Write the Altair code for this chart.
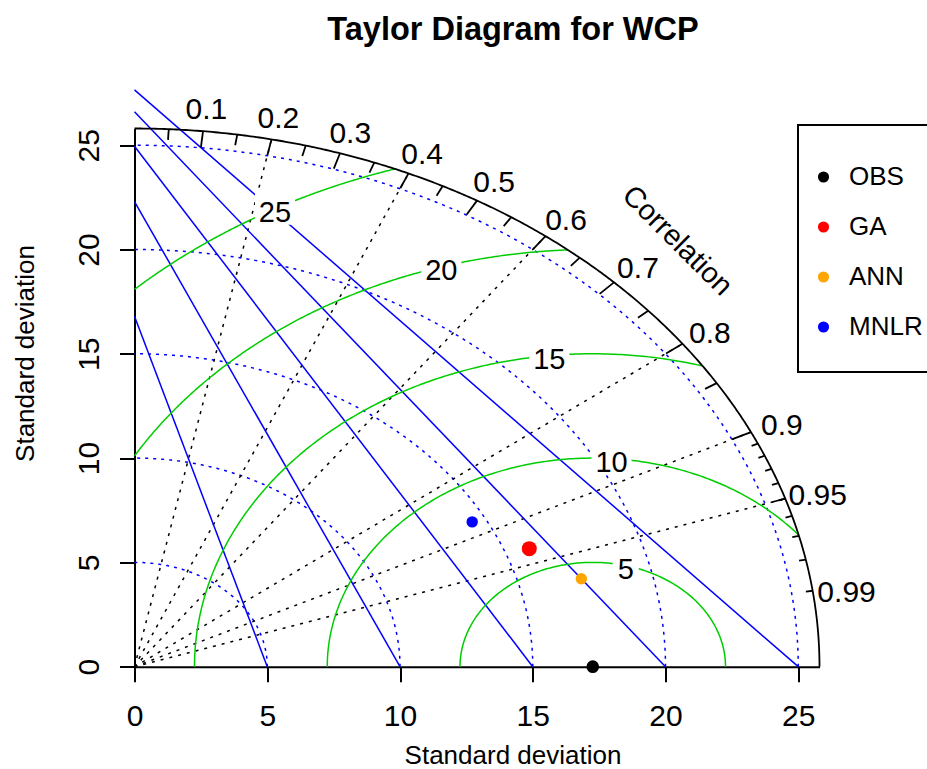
import numpy as np
import pandas as pd
import altair as alt

# ---------------- data ----------------
TITLE = "Taylor Diagram for WCP"
AXIS_TITLE = "Standard deviation"
CORR_TITLE = "Correlation"
MAXSD = 25.8
AXIS_TICKS = [0, 5, 10, 15, 20, 25]
SD_ARCS = [5, 10, 15, 20, 25]
GAMMA = [5, 10, 15, 20, 25]
GAMMA_LABEL_T = [1.32, 1.50, 1.68, 1.86, 2.07]          # radians along each RMSD arc
CORR_LINES = [0.2, 0.4, 0.6, 0.8, 0.9, 0.95]
CORR_LABELS = [0.1, 0.2, 0.3, 0.4, 0.5, 0.6, 0.7, 0.8, 0.9, 0.95, 0.99]
BIG_TICKS = [0.1, 0.2, 0.3, 0.4, 0.5, 0.6, 0.7, 0.8, 0.9]
MED_TICKS = [0.05, 0.15, 0.25, 0.35, 0.45, 0.55, 0.65, 0.75, 0.85, 0.95]
SMALL_TICKS = [0.91, 0.92, 0.93, 0.94, 0.95, 0.96, 0.97, 0.98, 0.99]
MODELS = ["OBS", "GA", "ANN", "MNLR"]
MODEL_SD = [17.26, 15.91, 17.35, 14.49]
MODEL_COR = [1.0, 0.9346, 0.9700, 0.8778]
MODEL_COLORS = ["#000000", "#FF0000", "#FFA500", "#0000FF"]
MODEL_SIZE = [160, 225, 130, 130]
LINE_X_INT = [5, 10, 15, 20, 25]
LINE_Y_INT = [16.8, 22.3, 24.95, 26.6, 27.65]

F = "Liberation Sans"
REF = MODEL_SD[0]

# ---------------- geometry tables ----------------
def arc(group, cx, r, t0, t1, n=241):
    t = np.linspace(t0, t1, n)
    return pd.DataFrame({"g": group, "o": np.arange(n),
                         "x": cx + r * np.cos(t), "y": r * np.sin(t)})

sd_arcs = pd.concat([arc(f"s{r}", 0, r, 0, np.pi / 2) for r in SD_ARCS])
outer = arc("outer", 0, MAXSD, 0, np.pi / 2, 361)

g_parts = []
for r in GAMMA:
    v = (MAXSD ** 2 - REF ** 2 - r ** 2) / (2 * REF * r)
    t0 = 0.0 if v >= 1 else float(np.arccos(max(v, -1)))
    t1 = np.pi if REF / r >= 1 else float(np.arccos(-REF / r))
    g_parts.append(arc(f"g{r}", REF, r, t0, t1))
gamma_arcs = pd.concat(g_parts)

def ticks(vals, k):
    c = np.array(vals)
    s = np.sqrt(1 - c ** 2)
    return pd.DataFrame({"x": MAXSD * c, "y": MAXSD * s, "x2": k * MAXSD * c, "y2": k * MAXSD * s})

tick_df = pd.concat([ticks(BIG_TICKS, 0.97), ticks(MED_TICKS, 0.98), ticks(SMALL_TICKS, 0.99)])

cl = np.array(CORR_LINES)
corr_lines = pd.DataFrame({"x": 0.0, "y": 0.0, "x2": MAXSD * cl, "y2": MAXSD * np.sqrt(1 - cl ** 2)})

clab = np.array(CORR_LABELS)
corr_lab = pd.DataFrame({"x": 1.05 * MAXSD * clab, "y": 1.05 * MAXSD * np.sqrt(1 - clab ** 2),
                         "lab": [f"{c:g}" for c in CORR_LABELS]})
corr_title = pd.DataFrame({"x": [1.125 * MAXSD * np.cos(np.pi / 4)],
                           "y": [1.125 * MAXSD * np.sin(np.pi / 4)], "lab": [CORR_TITLE]})

gt = np.array(GAMMA_LABEL_T)
gr = np.array(GAMMA)
gamma_lab = pd.DataFrame({"x": REF + gr * np.cos(gt), "y": gr * np.sin(gt),
                          "lab": [str(g) for g in GAMMA]})
BOX2 = "M-1,-0.8L1,-0.8L1,0.8L-1,0.8Z"
BOX1 = "M-0.8125,-1L0.8125,-1L0.8125,1L-0.8125,1Z"
gamma_lab["shape"] = [BOX1 if len(s) == 1 else BOX2 for s in gamma_lab["lab"]]
gamma_lab["bsize"] = [1024 if len(s) == 1 else 1600 for s in gamma_lab["lab"]]

blue_lines = pd.DataFrame({"x": LINE_X_INT, "y": 0.0, "x2": 0.0, "y2": LINE_Y_INT})

sd = np.array(MODEL_SD)
co = np.array(MODEL_COR)
pts = pd.DataFrame({"name": MODELS, "x": sd * co, "y": sd * np.sqrt(1 - co ** 2), "sz": MODEL_SIZE})

# ---------------- encodings ----------------
W = MAXSD * 26.55
H = MAXSD * 20.86

AX = alt.Axis(values=AXIS_TICKS, title=AXIS_TITLE, grid=False, tickSize=15, tickWidth=2,
              tickColor="black", domainColor="black", domainWidth=2, labelFont=F,
              labelFontSize=30, labelColor="black", labelBaseline="alphabetic",
              labelPadding=44.3, labelFlush=False, labelOverlap=False, labelBound=False,
              titleFont=F, titleFontSize=26, titleFontWeight="normal", titleColor="black",
              titleBaseline="alphabetic", titleX=378, titleY=96.5, titleAlign="center")
AY = alt.Axis(values=AXIS_TICKS, title=AXIS_TITLE, grid=False, tickSize=15, tickWidth=2,
              tickColor="black", domainColor="black", domainWidth=2, labelFont=F,
              labelFontSize=30, labelColor="black", labelAngle=-90, labelAlign="center",
              labelBaseline="alphabetic", labelPadding=21.2, labelFlush=False,
              labelOverlap=False, labelBound=False,
              titleFont=F, titleFontSize=26, titleFontWeight="normal", titleColor="black",
              titleAngle=270, titleBaseline="alphabetic", titleX=-101.2, titleY=224.5,
              titleAlign="center")
SX = alt.Scale(domain=[0, MAXSD], nice=False, zero=False)
SY = alt.Scale(domain=[0, MAXSD], nice=False, zero=False)

def X(f="x"):
    return alt.X(f, type="quantitative", scale=SX, axis=AX)

def Y(f="y"):
    return alt.Y(f, type="quantitative", scale=SY, axis=AY)

def lines(df, color, width, dash=None):
    kw = {"strokeDash": dash} if dash else {}
    return alt.Chart(df).mark_line(color=color, strokeWidth=width, **kw).encode(
        x=X(), y=Y(), detail="g:N", order="o:Q")

def rules(df, color, width, dash=None):
    kw = {"strokeDash": dash} if dash else {}
    return alt.Chart(df).mark_rule(color=color, strokeWidth=width, **kw).encode(
        x=X(), y=Y(), x2="x2:Q", y2="y2:Q")

layers = [
    lines(sd_arcs, "#0000FF", 1.5, [3, 5]),
    rules(corr_lines, "#000000", 1.5, [3, 6]),
    rules(blue_lines, "#0000FF", 1.5),
    lines(gamma_arcs, "#00CD00", 1.5),
    alt.Chart(gamma_lab).mark_point(filled=True, color="white", opacity=1, strokeWidth=0).encode(
        x=X(), y=Y(), shape=alt.Shape("shape:N", scale=None), size=alt.Size("bsize:Q", scale=None)),
    alt.Chart(gamma_lab).mark_text(font=F, fontSize=29, color="black", dy=4).encode(
        x=X(), y=Y(), text="lab:N"),
    lines(outer, "#000000", 1.8),
    rules(tick_df, "#000000", 1.8),
    alt.Chart(corr_lab).mark_text(font=F, fontSize=30, color="black", dy=6).encode(
        x=X(), y=Y(), text="lab:N"),
    alt.Chart(corr_title).mark_text(font=F, fontSize=29, color="black", angle=45, dy=3).encode(
        x=X(), y=Y(), text="lab:N"),
    alt.Chart(pts).mark_point(filled=True, shape="circle", opacity=1, strokeWidth=0).encode(
        x=X(), y=Y(),
        size=alt.Size("sz:Q", scale=None, legend=None),
        color=alt.Color("name:N", sort=MODELS,
                        scale=alt.Scale(domain=MODELS, range=MODEL_COLORS),
                        legend=alt.Legend(title=" ", orient="none", legendX=663.5, legendY=-3.5,
                                          strokeColor="black", fillColor="white", padding=19.5,
                                          labelFont=F, labelFontSize=26, labelColor="black",
                                          symbolSize=125, symbolType="circle",
                                          symbolStrokeWidth=0, symbolOffset=-7,
                                          clipHeight=50, rowPadding=0, labelOffset=12.5,
                                          titleFontSize=5, titlePadding=2.5))),
]

chart = alt.layer(*layers).properties(
    width=W, height=H,
    title=alt.TitleParams(TITLE, font=F, fontSize=32.5, fontWeight="bold", color="black",
                          anchor="middle", dx=36, offset=17, baseline="alphabetic"),
    autosize=alt.AutoSizeParams(type="none"),
    padding={"left": 134.5, "top": 128.5, "right": 927 - 134.5 - W, "bottom": 769 - 128.5 - H},
    background="white",
).configure_view(stroke=None).configure_legend(strokeWidth=2)

chart.save("out.html", embed_options={"renderer": "svg", "actions": False})
